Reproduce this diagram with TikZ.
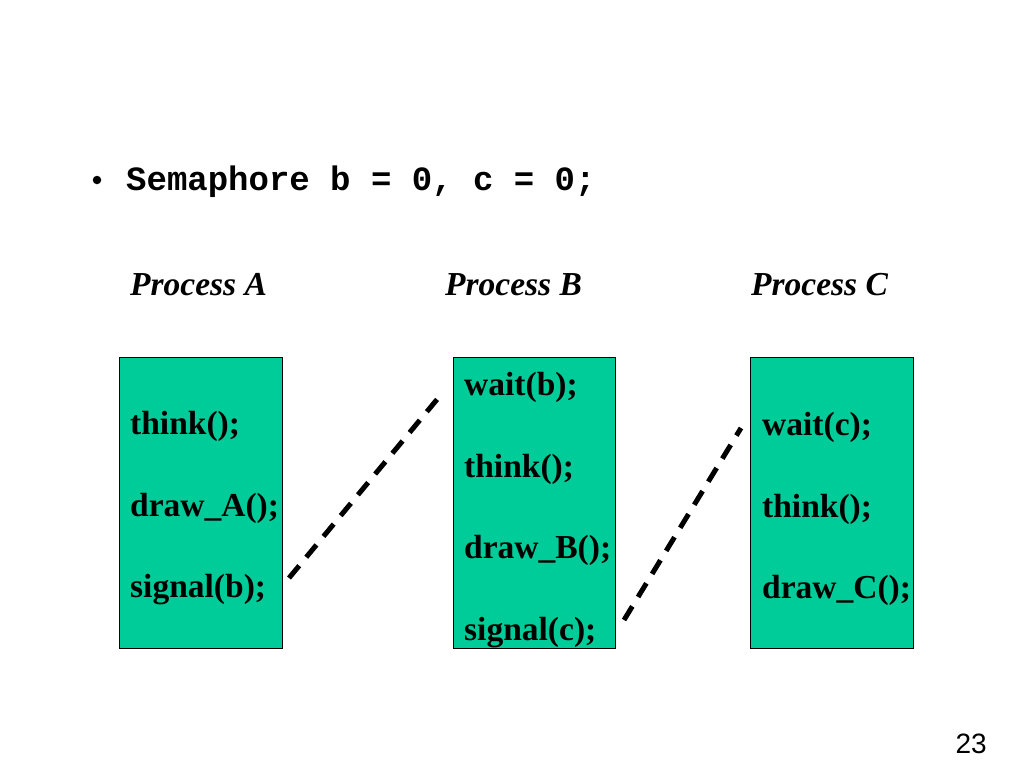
\documentclass[tikz,border=0pt]{standalone}
\usepackage{fontspec}
\setmainfont{Liberation Serif}
\newfontfamily\monobold{Liberation Mono}
\newfontfamily\arialfont{Liberation Sans}
\definecolor{boxteal}{RGB}{0,204,153}
\begin{document}
\begin{tikzpicture}[x=1pt,y=-1pt,
  procbox/.style={draw=black, line width=1pt, fill=boxteal},
  codeline/.style={anchor=base west, inner sep=0pt, font=\fontsize{33.5}{33.5}\selectfont\bfseries},
  header/.style={anchor=base west, inner sep=0pt, font=\fontsize{33.5}{33.5}\selectfont\bfseries\itshape},
  dashlink/.style={line width=5pt, dash pattern=on 16pt off 11pt}]
\useasboundingbox (0,0) rectangle (1024,768);
\fill[white] (0,0) rectangle (1024,768);

% title
\node[circle, fill=black, inner sep=0pt, minimum size=8.5pt] (bullet) at (97,180) {};
\node[anchor=base west, inner sep=0pt, font=\fontsize{34}{34}\monobold\bfseries] (title) at (126,190) {Semaphore b = 0, c = 0;};

% headers
\node[header] (hA) at (130,295) {Process A};
\node[header] (hB) at (445,295) {Process B};
\node[header] (hC) at (751,295) {Process C};

% boxes
\draw[procbox] (119,357) rectangle (282,648);
\draw[procbox] (453,357) rectangle (615,648);
\draw[procbox] (750,357) rectangle (913,648);

% Process A
\node[codeline] (a1) at (130,434.5) {think();};
\node[codeline] (a2) at (130,516) {draw\_A();};
\node[codeline] (a3) at (130,597.5) {signal(b);};

% Process B
\node[codeline] (b1) at (464,395.5) {wait(b);};
\node[codeline] (b2) at (464,477) {think();};
\node[codeline] (b3) at (464,558.5) {draw\_B();};
\node[codeline] (b4) at (464,640) {signal(c);};

% Process C
\node[codeline] (c1) at (762,435.5) {wait(c);};
\node[codeline] (c2) at (762,517) {think();};
\node[codeline] (c3) at (762,598.5) {draw\_C();};

% dashed links
\coordinate (l1s) at (289,578);
\coordinate (l1e) at (444,391);
\coordinate (l2s) at (624,620);
\coordinate (l2e) at (741,428);
\draw[dashlink] (l1s) -- (l1e);
\draw[dashlink] (l2s) -- (l2e);

% page number
\node[anchor=base east, inner sep=0pt, font=\fontsize{28}{28}\arialfont] (pg) at (987,753) {23};
\end{tikzpicture}
\end{document}
